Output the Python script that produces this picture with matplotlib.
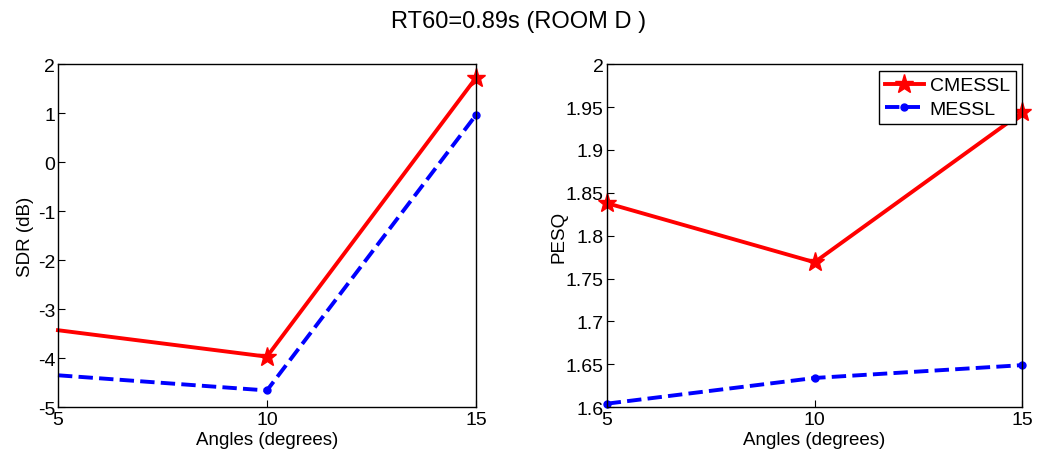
import numpy as np
import matplotlib
matplotlib.use('Agg')
import matplotlib.pyplot as plt
from matplotlib.ticker import FuncFormatter

plt.rcParams['font.family'] = ['Liberation Sans', 'DejaVu Sans']
plt.rcParams['axes.unicode_minus'] = False

# --- data ---
angles = [5, 10, 15]
sdr_cmessl = [-3.43, -3.97, 1.72]
sdr_messl = [-4.35, -4.66, 0.96]
pesq_cmessl = [1.838, 1.769, 1.944]
pesq_messl = [1.604, 1.634, 1.649]

sdr_ticks = [-5, -4, -3, -2, -1, 0, 1, 2]
pesq_ticks = [1.6, 1.65, 1.7, 1.75, 1.8, 1.85, 1.9, 1.95, 2.0]
x_ticks = [5, 10, 15]

fig = plt.figure(figsize=(10.37, 4.56), dpi=100)
ax1 = fig.add_axes([0.0559, 0.105, 0.403, 0.752])
ax2 = fig.add_axes([0.585, 0.105, 0.401, 0.752])

def style(ax):
    ax.tick_params(direction='in', length=5, labelsize=14, width=0.8,
                   top=False, right=False, pad=2)
    ax.tick_params(axis='x', pad=3)
    for s in ax.spines.values():
        s.set_linewidth(1.0)
    ax.set_xlim(5, 15)
    ax.set_xticks(x_ticks)
    ax.set_xlabel('Angles (degrees)', fontsize=13.5, labelpad=2)

# left: SDR (no marker shown at the first angle in the reference)
ax1.plot(angles, sdr_cmessl, color='red', lw=2.8, marker='*', ms=14,
         markevery=[1, 2], clip_on=False, label='CMESSL')
ax1.plot(angles, sdr_messl, color='blue', lw=2.8, ls='--', marker='.',
         ms=10, markevery=[1, 2], clip_on=False, label='MESSL')
ax1.set_ylim(-5, 2)
ax1.set_yticks(sdr_ticks)
ax1.set_ylabel('SDR (dB)', fontsize=13.5, labelpad=3)
style(ax1)

# right: PESQ
ax2.plot(angles, pesq_cmessl, color='red', lw=2.8, marker='*', ms=14,
         clip_on=False, label='CMESSL')
ax2.plot(angles, pesq_messl, color='blue', lw=2.8, ls='--', marker='.',
         ms=10, clip_on=False, label='MESSL')
ax2.set_ylim(1.6, 2.0)
ax2.set_yticks(pesq_ticks)
ax2.yaxis.set_major_formatter(FuncFormatter(lambda v, p: f'{v:g}'))
ax2.set_ylabel('PESQ', fontsize=13.5, labelpad=-1)
style(ax2)

leg = ax2.legend(loc='upper right', fontsize=14, fancybox=False,
                 edgecolor='black', framealpha=1, borderpad=0.3,
                 handlelength=2.0, handletextpad=0.3, labelspacing=0.3,
                 borderaxespad=0.35)
leg.get_frame().set_linewidth(1.0)

fig.suptitle('RT60=0.89s (ROOM D )', fontsize=17, y=0.975)

fig.savefig('out.png', dpi=100)
